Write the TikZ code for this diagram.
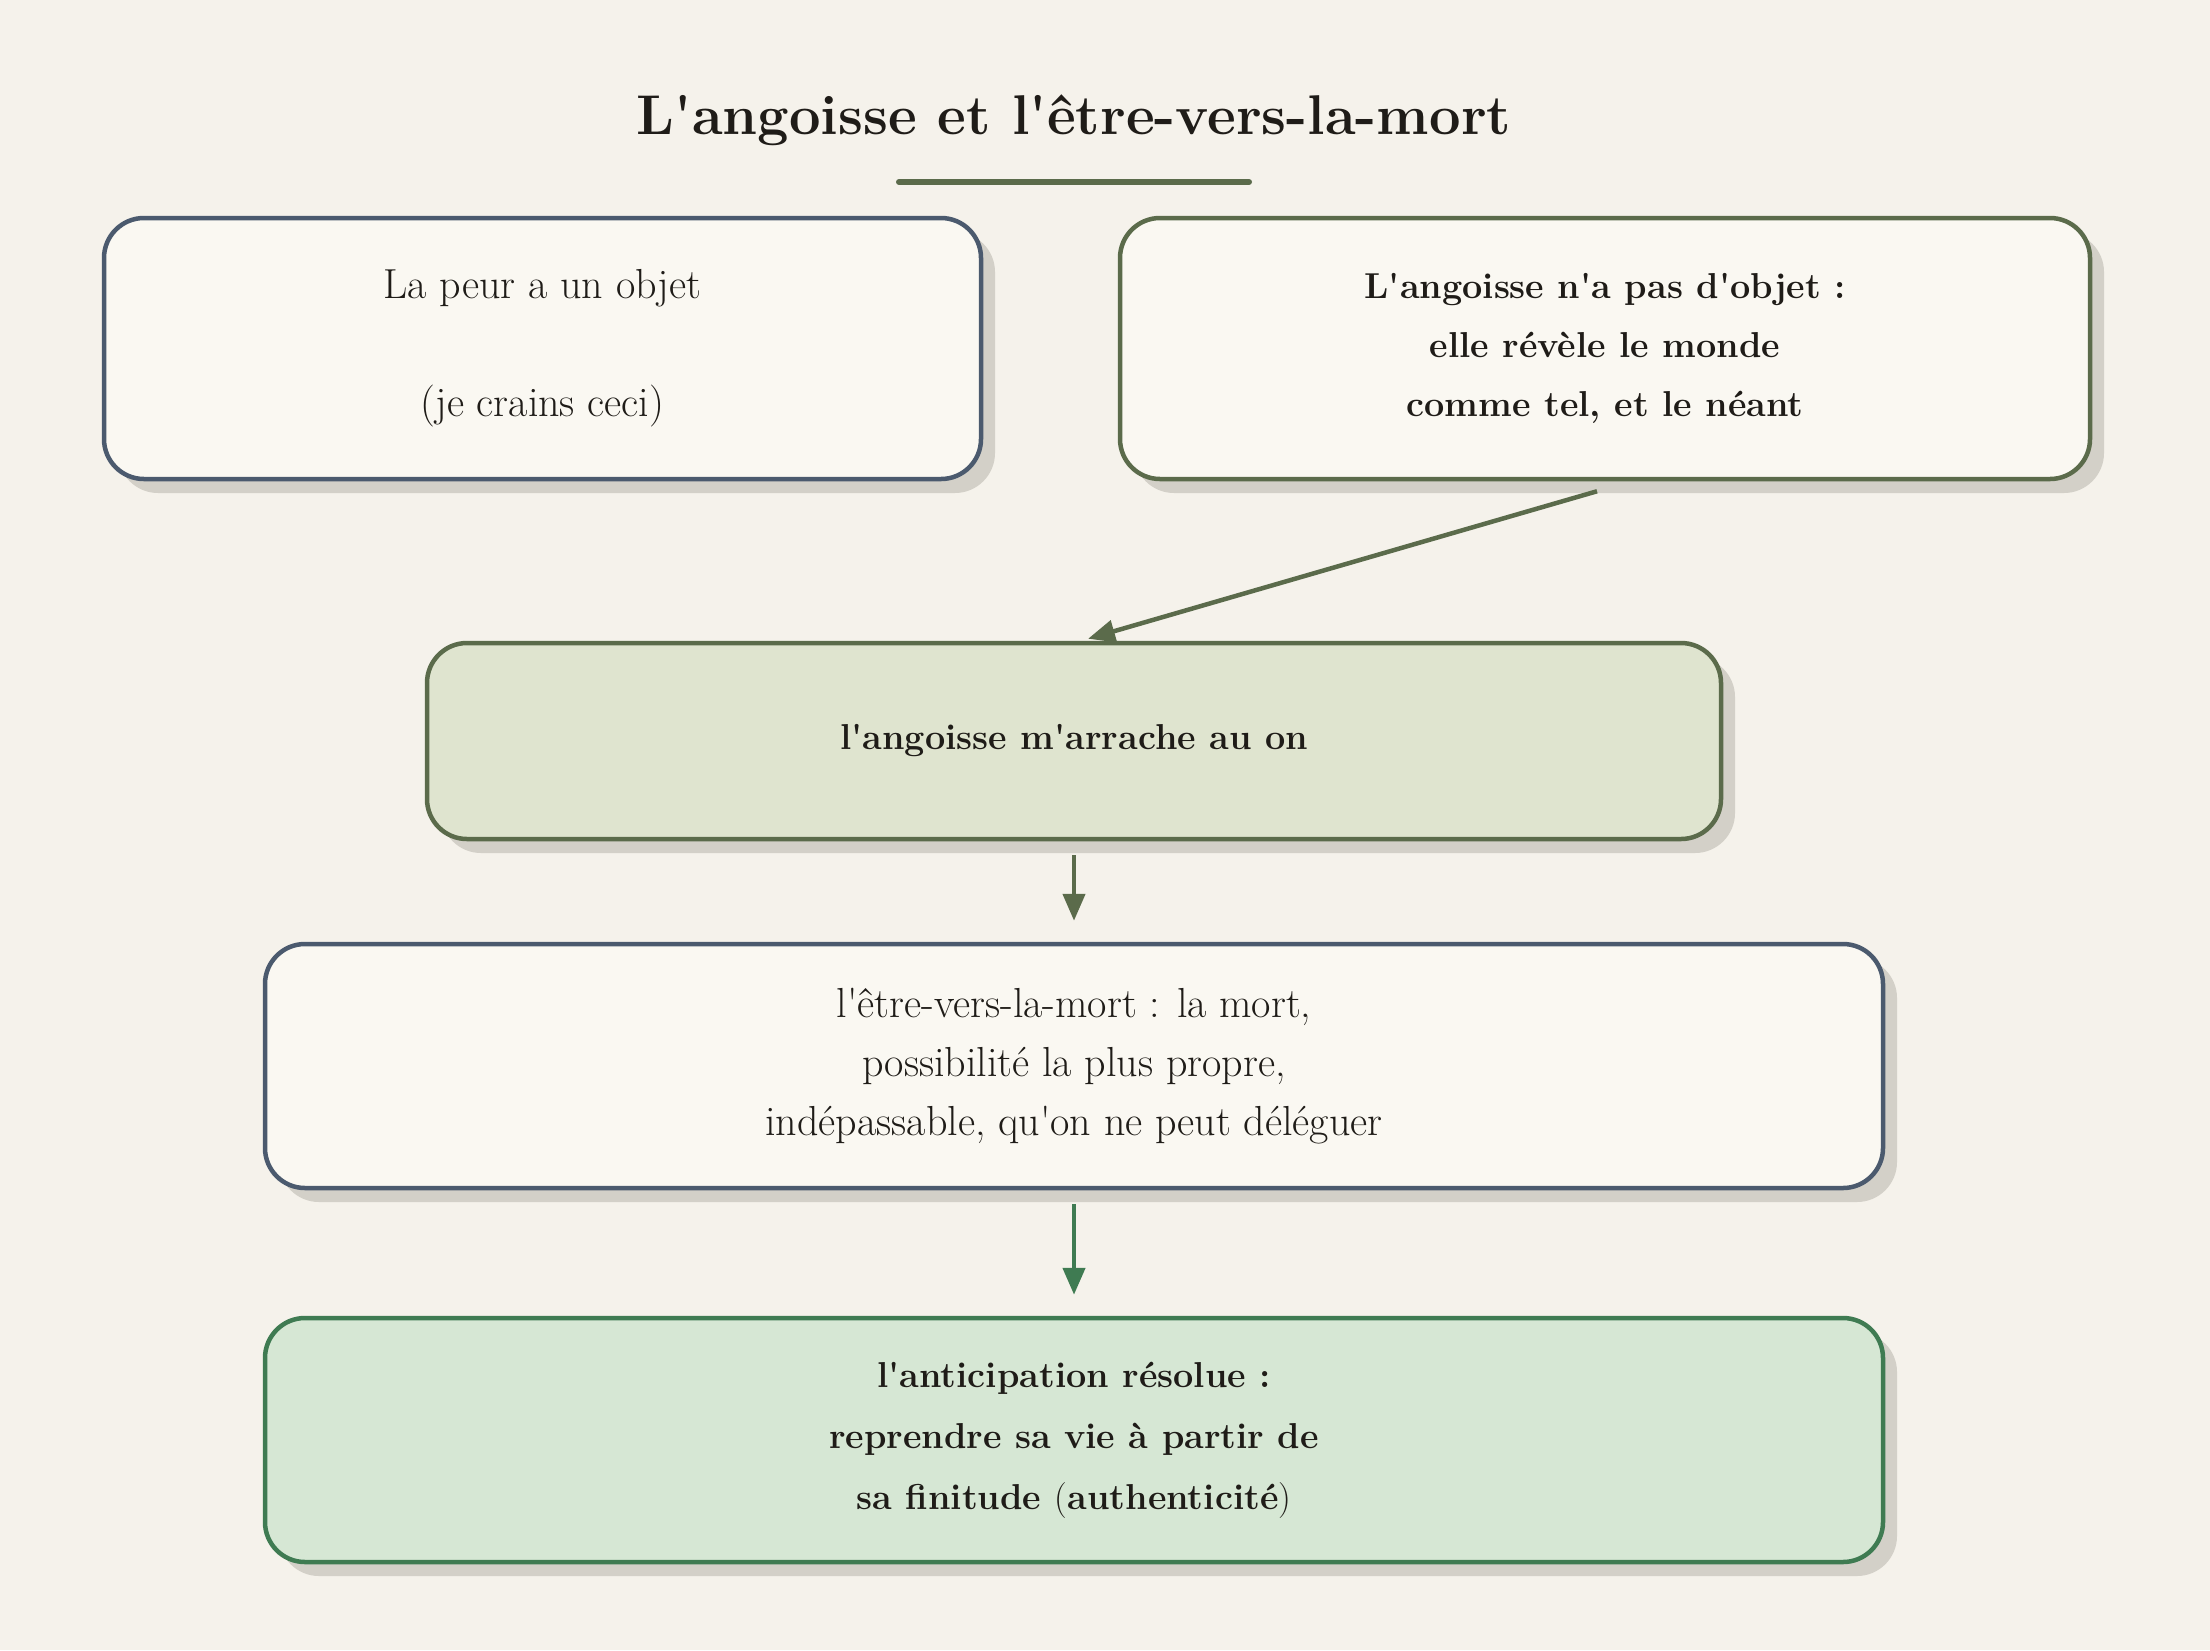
\documentclass[tikz,border=0pt]{standalone}
\usepackage{fontspec}
\usetikzlibrary{arrows.meta,shadows}
\definecolor{bgc}{HTML}{F5F2EB}
\definecolor{boxfillc}{HTML}{FAF8F2}
\definecolor{slatec}{HTML}{4B5A6E}
\definecolor{olivec}{HTML}{5B6B4B}
\definecolor{olivefillc}{HTML}{DFE4CF}
\definecolor{greenc}{HTML}{3F7B52}
\definecolor{greenfillc}{HTML}{D6E7D4}
\definecolor{shadowc}{HTML}{D3D0C8}
\definecolor{textc}{HTML}{1F1C18}
\newcommand{\ap}{\textquotesingle}
\begin{document}
\begin{tikzpicture}[x=1pt,y=-1pt,
  card/.style={draw, line width=4.5pt, rounded corners=40pt, align=center,
    text=textc, inner sep=0pt,
    font=\fontsize{42}{59}\selectfont,
    drop shadow={shadow xshift=14pt, shadow yshift=-14pt, fill=shadowc, opacity=1}},
  boldtext/.style={font=\fontsize{36}{59}\selectfont\bfseries},
  slatecard/.style={card, draw=slatec, fill=boxfillc},
  olivecard/.style={card, draw=olivec, fill=boxfillc},
  olivefilled/.style={card, draw=olivec, fill=olivefillc},
  greencard/.style={card, draw=greenc, fill=greenfillc},
  flow/.style={line width=4.5pt, -{Triangle[length=27pt,width=22pt]}}
]
\useasboundingbox[fill=bgc] (0,0) rectangle (2210,1650);

\node[anchor=base, text=textc, font=\fontsize{56}{60}\selectfont\bfseries] (title) at (1074,134) {L\ap angoisse et l\ap être-vers-la-mort};
\coordinate (ulA) at (899,182);
\coordinate (ulB) at (1249,182);
\draw[olivec, line width=6pt, line cap=round] (ulA) -- (ulB);

\node[slatecard, minimum width=877pt, minimum height=261pt] (b1) at (542.5,348.5)
  {La peur a un objet\\ ~ \\(je crains ceci)};
\node[olivecard, boldtext, minimum width=970pt, minimum height=261pt] (b2) at (1605,348.5)
  {L\ap angoisse n\ap a pas d\ap objet :\\elle révèle le monde\\comme tel, et le néant};
\node[olivefilled, boldtext, minimum width=1294pt, minimum height=196pt] (b3) at (1074,741)
  {l\ap angoisse m\ap arrache au on};
\node[slatecard, minimum width=1618pt, minimum height=244pt] (b4) at (1074,1066)
  {l\ap être-vers-la-mort : la mort,\\possibilité la plus propre,\\indépassable, qu\ap on ne peut déléguer};
\node[greencard, boldtext, minimum width=1618pt, minimum height=244pt, font=\fontsize{36}{61}\selectfont\bfseries] (b5) at (1074,1440)
  {l\ap anticipation résolue :\\reprendre sa vie à partir de\\sa finitude {\mdseries(}authenticité{\mdseries)}};

\draw[flow, olivec] ([xshift=-8pt,yshift=-10pt]b2.south) -- ([xshift=14pt,yshift=2pt]b3.north);
\draw[flow, olivec] ([yshift=-14pt]b3.south) -- ([yshift=21pt]b4.north);
\draw[flow, greenc] ([yshift=-14pt]b4.south) -- ([yshift=21pt]b5.north);
\end{tikzpicture}
\end{document}
